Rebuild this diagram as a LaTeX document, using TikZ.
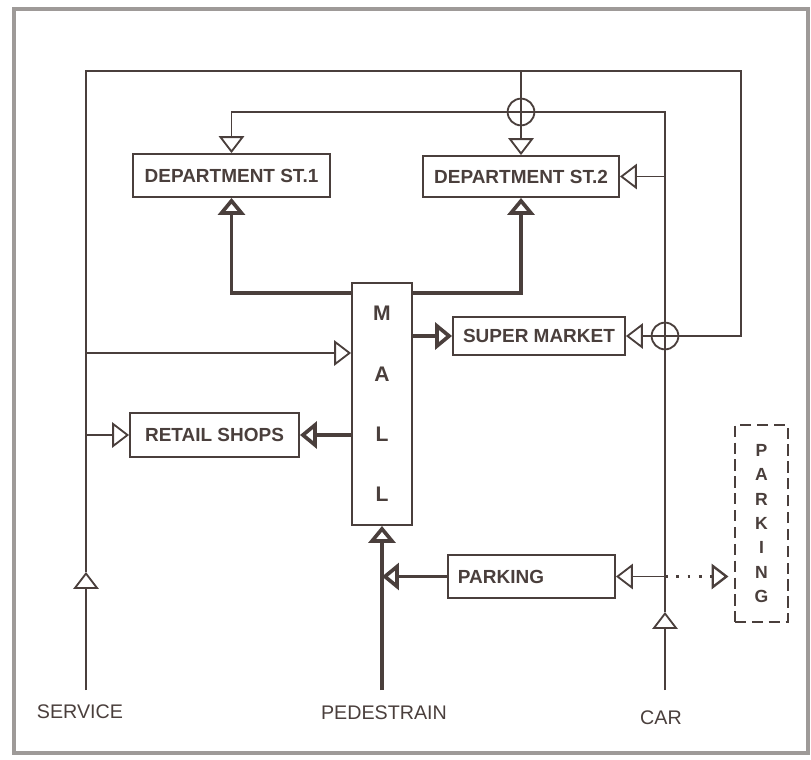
\documentclass[tikz,border=0pt]{standalone}
\usepackage{fontspec}
\setmainfont{Liberation Sans}
\usetikzlibrary{arrows.meta}

\definecolor{ink}{HTML}{4A3F3C}
\definecolor{frame}{HTML}{9E9A98}

\tikzset{
    store/.style={draw=ink, line width=1.3pt, text=ink, inner sep=0pt,
        font=\fontsize{13.5}{16}\selectfont\bfseries},
    thinflow/.style={draw=ink, line width=1.3pt, -{Triangle[open, length=12pt, width=18pt]}},
    thickflow/.style={draw=ink, line width=2.6pt, -{Triangle[open, length=12pt, width=19pt]}},
    crossing/.style={circle, draw=ink, line width=1.3pt, minimum size=19pt, inner sep=0pt},
    access/.style={text=ink, font=\fontsize{14}{16}\selectfont},
}

\begin{document}
\begin{tikzpicture}[x=0.025cm, y=-0.025cm]
\useasboundingbox (0,0) rectangle (811,759);
\draw[frame, line width=3pt] (14,9) rectangle (808,753);

% Shops round the mall
\node[store, minimum width=4.925cm, minimum height=1.075cm] (dept1) at (231.5,175.5) {DEPARTMENT ST.1};
\node[store, minimum width=4.9cm, minimum height=1.025cm] (dept2) at (521,176.5) {DEPARTMENT ST.2};
\node[store, minimum width=4.3cm, minimum height=0.95cm] (super) at (539,336) {SUPER MARKET};
\node[store, minimum width=4.225cm, minimum height=1.1cm] (retail) at (214.5,435) {RETAIL SHOPS};
\node[store, minimum width=1.5cm, minimum height=6.05cm, align=center,
    font=\fontsize{15}{43}\selectfont\bfseries] (mall) at (382,404) {M\\A\\L\\L};
\node[store, minimum height=1.075cm, text width=3.675cm, inner xsep=0.25cm, align=left] (parking) at (531.5,576.5) {PARKING};
\node[store, dash pattern=on 8pt off 4pt, minimum width=1.325cm, minimum height=4.925cm, align=center,
    font=\fontsize{12.5}{17.4}\selectfont\bfseries] (lot) at (761.5,523.5) {P\\A\\R\\K\\I\\N\\G};

% Access points
\node[access] (service) at (80,712) {SERVICE};
\node[access] (pedestrian) at (384,713) {PEDESTRAIN};
\node[access] (car) at (661,718) {CAR};

\coordinate (svcfoot) at (86,690);
\coordinate (svcmid) at (86,572);
\coordinate (svctop) at (86,71);
\coordinate (svcmall) at (86,353);
\coordinate (outer) at (741,71);
\coordinate (pedfoot) at (382,690);
\coordinate (carfoot) at (665,690);
\coordinate (carmid) at (665,612);
\coordinate (cartop) at (665,112);

% Crossings
\node[crossing] (x1) at (dept2.north |- cartop) {};
\node[crossing] (x2) at (carfoot |- super) {};

% Service
\draw[thinflow] (svcfoot) -- (svcmid);
\draw[ink, line width=1.3pt] (svcmid) -- (svctop) -- (outer) |- (x2.center);
\draw[thinflow] (x2.center) -- (super.east);
\draw[thinflow] (svctop -| dept2.north) -- (dept2.north);
\draw[thinflow] (svcmall) -- (svcmall -| mall.west);
\draw[thinflow] (svctop |- retail) -- (retail.west);

% Pedestrian
\draw[thickflow] (pedfoot) -- (mall.south);
\draw[thickflow] (parking.west) -- (pedfoot |- parking);
\draw[thickflow] (mall.north west) ++(0,11) -| (dept1.south);
\draw[thickflow] (mall.north east) ++(0,11) -| (dept2.south);
\draw[thickflow] (mall.east |- super) -- (super.west);
\draw[thickflow] (mall.west |- retail) -- (retail.east);

% Car
\draw[thinflow] (carfoot) -- (carmid);
\draw[thinflow] (carmid) -- (cartop) -| (dept1.north);
\draw[thinflow] (cartop |- dept2) -- (dept2.east);
\draw[thinflow] (carfoot |- parking) -- (parking.east);
\draw[thinflow, line width=1.7pt, dash pattern=on 2pt off 6pt] (carfoot |- parking) -- ([xshift=-4pt]lot.west |- parking);

\end{tikzpicture}
\end{document}
